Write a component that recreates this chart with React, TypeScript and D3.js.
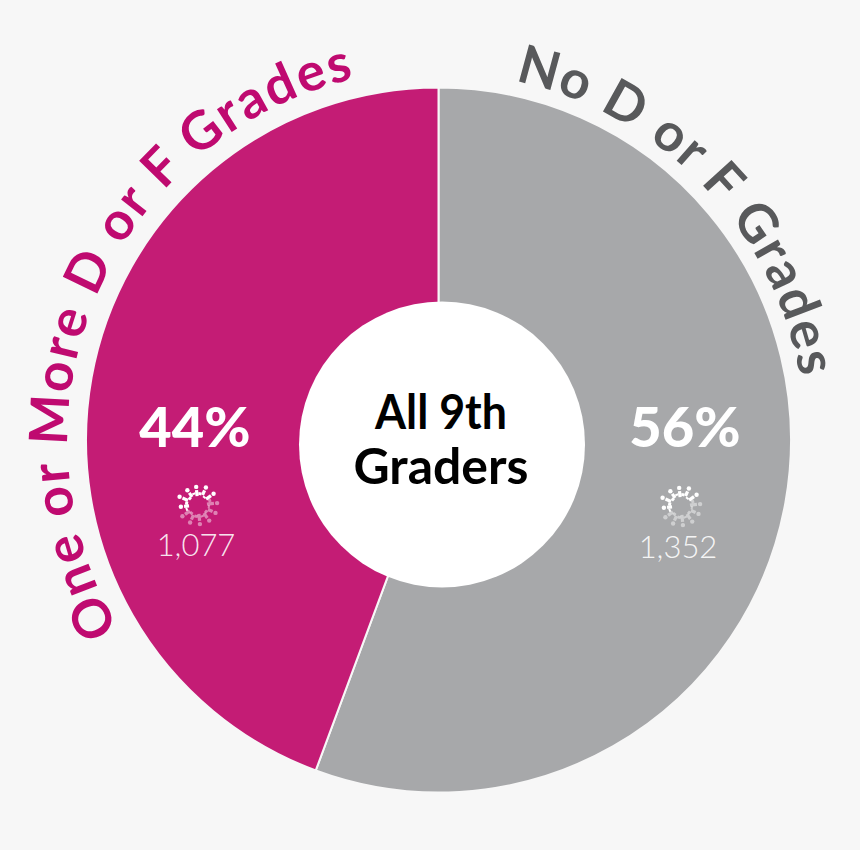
import React from "react";
import * as d3 from "d3";

const categories = ["No D or F Grades", "One or More D or F Grades"];
const counts = [1352, 1077];
const percents = ["56%", "44%"];
const countLabels = ["1,352", "1,077"];
const sliceColors = ["#a7a8aa", "#c41c75"];
const labelColors = ["#58595b", "#bf0a70"];
const rayLengths = [6, 3, 5, 2, 6, 3, 7, 2, 5, 3, 6, 2, 7, 3, 5, 3, 6, 2, 5, 3, 6, 3, 5, 2];

const W = 860, H = 850, cx = 438.5, cy = 440, R = 352.5;
const rad = (d: number) => (d * Math.PI) / 180;

function arcPath(r: number, a0: number, a1: number) {
  const p = d3.path();
  p.arc(cx, cy, r, rad(a0 - 90), rad(a1 - 90), false);
  return p.toString();
}

function Spinner({ x, y }: { x: number; y: number }) {
  return (
    <g transform={`translate(${x},${y})`}>
      {rayLengths.map((len, i) => {
        const a = (i / rayLengths.length) * 2 * Math.PI - Math.PI / 2 - 0.1;
        const upper = Math.sin(a + 0.45) < 0;
        const r0 = 9 + (i % 3);
        const r1 = r0 + len;
        return (
          <g key={i} opacity={upper ? 1 : 0.45} fill="#fff" stroke="#fff">
            <line x1={r0 * Math.cos(a)} y1={r0 * Math.sin(a)} x2={r1 * Math.cos(a)} y2={r1 * Math.sin(a)} strokeWidth={3.2} />
            {i % 2 === 0 && <circle cx={(r1 + 3.2) * Math.cos(a)} cy={(r1 + 3.2) * Math.sin(a)} r={2.2} stroke="none" />}
          </g>
        );
      })}
    </g>
  );
}

export default function App() {
  const pie = d3.pie<number>().sort(null);
  const slices = pie(counts);
  const arc = d3.arc<d3.PieArcDatum<number>>().innerRadius(0).outerRadius(R);
  const font = "Lato, 'Open Sans', sans-serif";
  const pctPos = [[685, 447], [195, 447]];
  const iconPos = [[681, 506], [198, 505]];
  const countPos = [[678, 558], [196, 556]];
  const labelArcs = [
    { r: 367, a0: 12, a1: 80, len: 436 },
    { r: 371, a0: -120.5, a1: -12, len: 695 },
  ];
  return (
    <svg width={W} height={H} style={{ position: "absolute", left: 0, top: 0, background: "#f7f7f7" }}>
      <defs>
        {labelArcs.map((l, i) => (
          <path key={i} id={`lab${i}`} d={arcPath(l.r, l.a0, l.a1)} fill="none" />
        ))}
      </defs>
      <rect width={W} height={H} fill="#f7f7f7" />
      <g transform={`translate(${cx},${cy})`}>
        {slices.map((s, i) => (
          <path key={i} d={arc(s) ?? ""} fill={sliceColors[i]} stroke="#f7f7f7" strokeWidth={2} />
        ))}
      </g>
      <circle cx={442} cy={444.5} r={143} fill="#fff" />
      <g fontFamily={font} fontWeight={700} textAnchor="middle" fill="#000">
        <text x={441} y={429} fontSize={47} textLength={132} lengthAdjust="spacingAndGlyphs">All 9th</text>
        <text x={441} y={484} fontSize={49} textLength={175} lengthAdjust="spacingAndGlyphs">Graders</text>
      </g>
      {categories.map((c, i) => (
        <text key={c} fontFamily={font} fontWeight={700} fontSize={53} fill={labelColors[i]} textLength={labelArcs[i].len} lengthAdjust="spacing">
          <textPath href={`#lab${i}`}>{c}</textPath>
        </text>
      ))}
      {percents.map((p, i) => (
        <text key={p} x={pctPos[i][0]} y={pctPos[i][1]} fontFamily={font} fontWeight={900} fontSize={56} textAnchor="middle" fill="#fff">{p}</text>
      ))}
      {iconPos.map((p, i) => <Spinner key={i} x={p[0]} y={p[1]} />)}
      {countLabels.map((c, i) => (
        <text key={c} x={countPos[i][0]} y={countPos[i][1]} fontFamily={font} fontWeight={300} fontSize={31} textAnchor="middle" fill="#fff" fillOpacity={0.9}>{c}</text>
      ))}
    </svg>
  );
}
